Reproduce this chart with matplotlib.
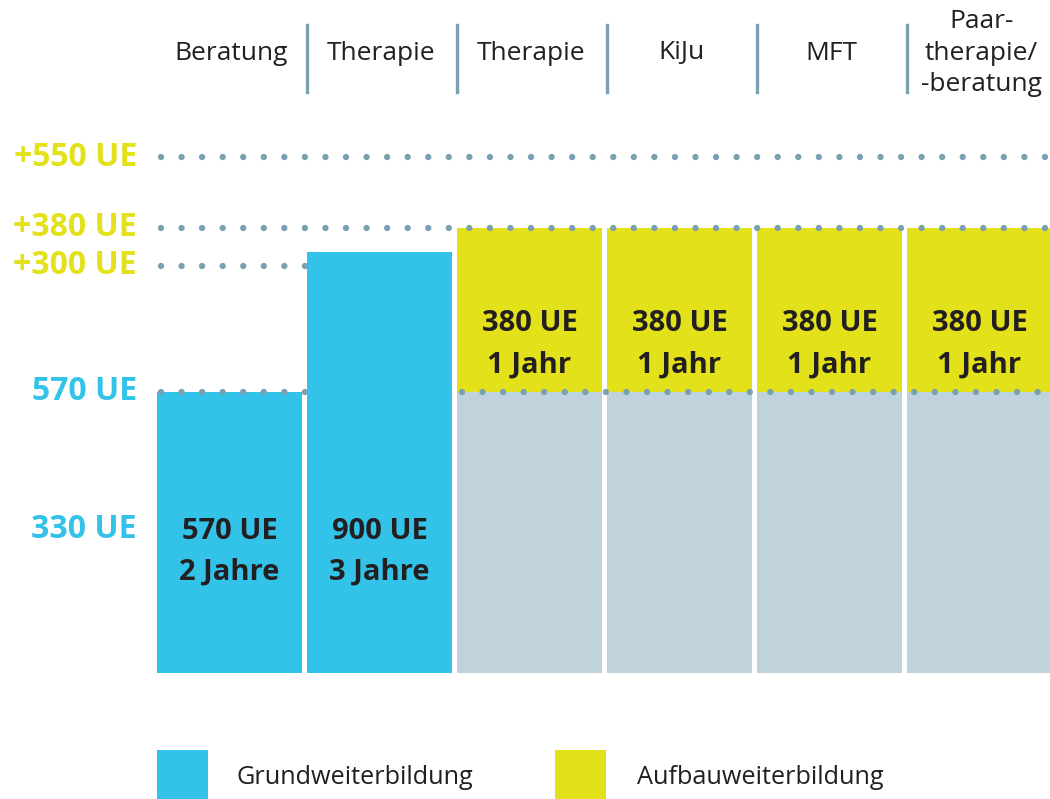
import numpy as np
import matplotlib
matplotlib.use("Agg")
import matplotlib.pyplot as plt
from matplotlib.patches import Rectangle

# ---------------- data ----------------
columns = ["Beratung", "Therapie", "Therapie", "KiJu", "MFT", "Paar-\ntherapie/\n-beratung"]
grund_ue = [570, 900, 0, 0, 0, 0]          # Grundweiterbildung (blue)
basis_ue = [0, 0, 570, 570, 570, 570]      # prerequisite base (grey)
aufbau_ue = [0, 0, 380, 380, 380, 380]     # Aufbauweiterbildung (yellow)
bar_labels = ["570 UE\n2 Jahre", "900 UE\n3 Jahre", "380 UE\n1 Jahr", "380 UE\n1 Jahr",
              "380 UE\n1 Jahr", "380 UE\n1 Jahr"]
level_labels_yellow = ["+550 UE", "+380 UE", "+300 UE"]
level_values_yellow = [1120, 950, 870]
level_labels_blue = ["570 UE", "330 UE"]
level_values_blue = [570, 330]
legend_labels = ["Grundweiterbildung", "Aufbauweiterbildung"]

# ---------------- style ----------------
BLUE = "#33c3e9"
YELLOW = "#e2e11a"
GREY = "#c0d3dc"
DOT = "#7aa0b1"
DARK = "#231f20"
FONT = "Open Sans"

W, H = 1050, 799
fig = plt.figure(figsize=(W / 100, H / 100), dpi=100)

# schematic (not-to-scale) vertical axis: piecewise-linear mapping UE -> pixels
knots_ue = np.array([0, 330, 570, 870, 950, 1120, 1400])
knots_px = np.array([0, 143, 281, 407, 445, 516, 633.6])
fwd = lambda v: np.interp(v, knots_ue, knots_px)
inv = lambda p: np.interp(p, knots_px, knots_ue)

y_top_ue = 1200
ax_h_px = float(fwd(y_top_ue))
base_px = 673
ax_left_px = 157
ax = fig.add_axes([ax_left_px / W, 1 - base_px / H, (W - ax_left_px) / W, ax_h_px / H])
ax.set_yscale("function", functions=(fwd, inv))
ax.set_ylim(0, y_top_ue)
px_per_unit = 150.0
bw = 145 / px_per_unit
x0 = -bw / 2
ax.set_xlim(x0, x0 + (W - ax_left_px) / px_per_unit)
ax.axis("off")

x = np.arange(len(columns))
ax.bar(x, grund_ue, width=bw, color=BLUE, zorder=2)
ax.bar(x, basis_ue, width=bw, color=GREY, zorder=2)
ax.bar(x, aufbau_ue, width=bw, bottom=basis_ue, color=YELLOW, zorder=2)

plt.rcParams["lines.scale_dashes"] = False
def px2x(p):
    return x0 + (p - ax_left_px) / px_per_unit

def dots(xs, xe, yv):
    ax.plot([px2x(xs), px2x(xe)], [yv, yv], color=DOT, lw=4.6,
            linestyle=(0, (0.001, 14.8)), dash_capstyle="round", zorder=4,
            clip_on=False)

dots(161, 1052, level_values_yellow[0])
dots(161, 1052, level_values_yellow[1])
dots(161, 307, level_values_yellow[2])
dots(161, 307, level_values_blue[0])
dots(462, 1052, level_values_blue[0])

# labels in bars
for i, lab in enumerate(bar_labels):
    if grund_ue[i] > 0:
        yc, off = 330, -22
    else:
        yc, off = basis_ue[i] + aufbau_ue[i] / 2, -32
    ax.annotate(lab, (x[i], yc), xytext=(0, off), textcoords="offset pixels",
                ha="center", va="center", fontsize=21, fontweight="bold",
                color=DARK, family=FONT, linespacing=1.55, zorder=5)

# left level labels
for lab, v in zip(level_labels_yellow, level_values_yellow):
    ax.text(px2x(137), v, lab, ha="right", va="center", fontsize=23, fontweight="bold",
            color=YELLOW, family=FONT, clip_on=False)
for lab, v in zip(level_labels_blue, level_values_blue):
    ax.text(px2x(137), v, lab, ha="right", va="center", fontsize=23, fontweight="bold",
            color=BLUE, family=FONT, clip_on=False)

# column headers
for i, name in enumerate(columns):
    cx = (ax_left_px + 72.5 + 150 * i + 2) / W
    fig.text(cx, 1 - 53 / H, name, ha="center", va="center", fontsize=19,
             color=DARK, family=FONT, linespacing=1.32)
for i in range(1, len(columns)):
    sx = (ax_left_px + 150 * i) / W
    fig.add_artist(plt.Line2D([sx, sx], [1 - 25 / H, 1 - 92 / H], color=DOT, lw=2.4))

# legend
fig.add_artist(Rectangle((157 / W, 0), 51 / W, 49 / H, transform=fig.transFigure,
                         color=BLUE, lw=0))
fig.add_artist(Rectangle((555 / W, 0), 51 / W, 49 / H, transform=fig.transFigure,
                         color=YELLOW, lw=0))
fig.text(237 / W, 1 - 777 / H, legend_labels[0], ha="left", va="center", fontsize=18.2,
         color=DARK, family=FONT)
fig.text(637 / W, 1 - 777 / H, legend_labels[1], ha="left", va="center", fontsize=18.2,
         color=DARK, family=FONT)

fig.savefig("out.png", dpi=100, facecolor="white")
